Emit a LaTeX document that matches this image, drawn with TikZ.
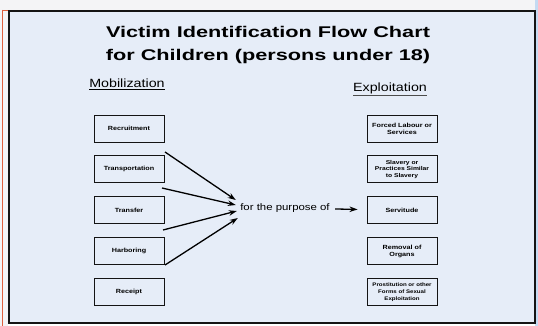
\documentclass[tikz,border=0pt]{standalone}
\usepackage{fontspec}
\setmainfont{Liberation Sans}[FakeStretch=1.2]
\newfontfamily\titlefont{Liberation Sans}[FakeStretch=1.4]
\usetikzlibrary{arrows.meta,positioning,calc}
\definecolor{folie}{RGB}{230,237,248}
\definecolor{leiste}{RGB}{244,244,246}
\definecolor{randblau}{RGB}{196,218,242}
\definecolor{randrot}{RGB}{222,96,62}
\definecolor{rahmen}{RGB}{20,20,20}

\tikzset{
    stage/.style={draw=rahmen, line width=0.9pt, fill=folie, minimum width=70pt, minimum height=27pt,
        inner sep=1pt, align=center, font=\bfseries\fontsize{6}{6.8}\selectfont},
    heading/.style={font=\fontsize{11.9}{13}\selectfont},
    flow/.style={-{Stealth[length=8pt,width=5.5pt]}, line width=1.3pt},
}

\begin{document}
\begin{tikzpicture}[x=1pt,y=-1pt]
    \useasboundingbox (0,0) rectangle (538,326);

    % slide background
    \fill[leiste] (0,0) rectangle (538,10);
    \fill[randblau] (535,0) rectangle (538,326);
    \fill[leiste] (0,10) rectangle (8,326);
    \fill[folie] (8,11) rectangle (535,323);
    \draw[randrot, line width=1pt] (2,10) -- (2,326);
    \draw[randrot, line width=0.8pt] (2,10) -- (534,10);
    \draw[rahmen, line width=2pt] (8.5,11.5) rectangle (534.5,323);

    \node[align=center, font=\titlefont\bfseries\fontsize{15.5}{23}\selectfont] (title) at (268,45)
        {Victim Identification Flow Chart\\for Children (persons under 18)};

    \node[heading] (mob) at (127,84) {\underline{Mobilization}};
    \node[heading] (expl) at (390,89) {\color{black!70}\underline{\color{black}Exploitation}};

    % mobilization stages
    \node[stage] (recruit) at (129,128.5) {Recruitment};
    \node[stage, below=13pt of recruit] (transport) {Transportation};
    \node[stage, below=13pt of transport] (transfer) {Transfer};
    \node[stage, below=13pt of transfer] (harbor) {Harboring};
    \node[stage, below=13pt of harbor] (receipt) {Receipt};

    % exploitation forms
    \node[stage] (labour) at (402,128.5) {Forced Labour or\\Services};
    \node[stage, below=13pt of labour, font=\bfseries\fontsize{5.6}{6.8}\selectfont] (slavery)
        {Slavery or\\Practices Similar\\to Slavery};
    \node[stage, below=13pt of slavery] (servitude) {Servitude};
    \node[stage, below=13pt of servitude] (organs) {Removal of\\Organs};
    \node[stage, below=13pt of organs, font=\bfseries\fontsize{5.1}{6.6}\selectfont] (sexual)
        {Prostitution or other\\Forms of Sexual\\Exploitation};

    \node[font=\fontsize{9.5}{11}\selectfont] (purpose) at (285,208) {for the purpose of};

    \coordinate (s1) at (165,152);
    \coordinate (s2) at (162,188);
    \coordinate (s3) at (163,230);
    \coordinate (s4) at (165,265);
    \coordinate (e1) at ($(purpose.west)+(-1,-8)$);
    \coordinate (e2) at ($(purpose.west)+(-1,-3)$);
    \coordinate (e3) at ($(purpose.west)+(0,3)$);
    \coordinate (e4) at ($(purpose.west)+(1,10)$);

    \draw[flow] (s1) -- (e1);
    \draw[flow] (s2) -- (e2);
    \draw[flow] (s3) -- (e3);
    \draw[flow] (s4) -- (e4);
    \draw[flow, shorten <=2pt, shorten >=9pt] (purpose) -- (servitude);

\end{tikzpicture}
\end{document}
